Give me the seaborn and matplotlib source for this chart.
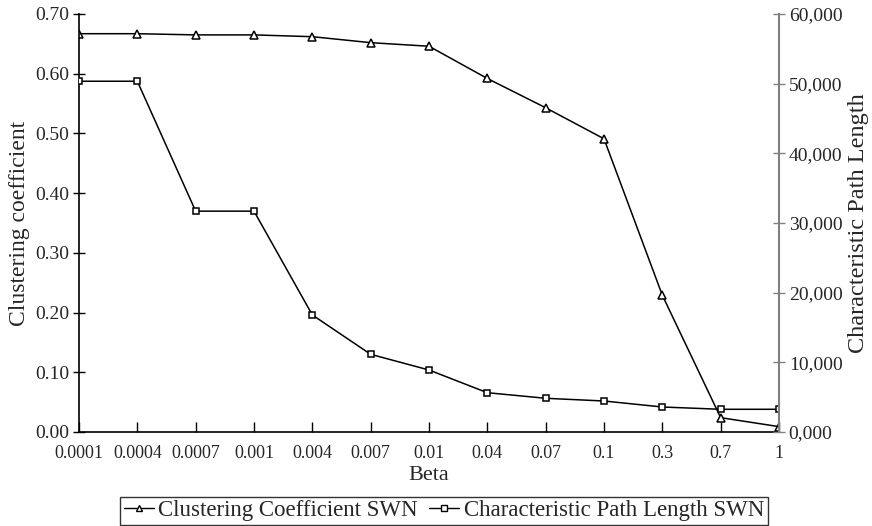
import matplotlib
matplotlib.use("Agg")
import matplotlib.pyplot as plt
from matplotlib.ticker import FuncFormatter, MultipleLocator
from matplotlib.lines import Line2D
import seaborn as sns
import pandas as pd

beta_labels = ["0.0001", "0.0004", "0.0007", "0.001", "0.004", "0.007", "0.01",
               "0.04", "0.07", "0.1", "0.3", "0.7", "1"]
clustering = [0.667, 0.667, 0.665, 0.665, 0.662, 0.652, 0.646,
              0.592, 0.543, 0.491, 0.229, 0.024, 0.009]
path_length = [50350, 50350, 31700, 31700, 16800, 11150, 8900,
               5640, 4840, 4450, 3590, 3260, 3260]

sns.set_theme(style="white")
plt.rcParams["font.family"] = ["Liberation Serif", "DejaVu Serif"]

df = pd.DataFrame({"pos": list(range(len(beta_labels))),
                   "beta": beta_labels,
                   "cc": clustering,
                   "cpl": path_length})

fig, ax = plt.subplots(figsize=(8.72, 5.26), dpi=100)
fig.subplots_adjust(left=79/872, right=779/872, top=1-14/526, bottom=1-432/526)
ax2 = ax.twinx()

sns.lineplot(data=df, x="pos", y="cc", ax=ax, color="black", linewidth=1.1,
             marker="^", markersize=5.5, markerfacecolor="white",
             markeredgecolor="black", markeredgewidth=1.1, sort=False)
sns.lineplot(data=df, x="pos", y="cpl", ax=ax2, color="black", linewidth=1.1,
             marker="s", markersize=5, markerfacecolor="white",
             markeredgecolor="black", markeredgewidth=1.1, sort=False)

ax.set_xlim(0, len(beta_labels) - 1)
ax.set_ylim(0, 0.70)
ax2.set_ylim(0, 60000)
ax.set_xticks(range(len(beta_labels)))
ax.set_xticklabels(beta_labels)
ax.yaxis.set_major_locator(MultipleLocator(0.1))
ax.yaxis.set_major_formatter(FuncFormatter(lambda v, p: f"{v:.2f}"))
ax2.yaxis.set_major_locator(MultipleLocator(10000))
ax2.yaxis.set_major_formatter(FuncFormatter(lambda v, p: f"{v/1000:.0f},000"))

ax.tick_params(axis="y", direction="inout", length=8, width=1, labelsize=14,
               color="black", pad=3, left=True)
ax.tick_params(axis="x", direction="in", length=7, width=1, labelsize=13,
               color="black", pad=9, bottom=True)
ax2.tick_params(axis="y", direction="inout", length=8, width=1, labelsize=14,
                color="#808080", pad=3, right=True)

for a in (ax, ax2):
    a.spines["top"].set_visible(False)
ax.spines["left"].set_color("black")
ax.spines["bottom"].set_color("black")
ax.spines["right"].set_visible(False)
ax2.spines["left"].set_visible(False)
ax2.spines["bottom"].set_visible(False)
ax2.spines["right"].set_color("#808080")
ax2.spines["right"].set_linewidth(1.5)
ax.spines["left"].set_linewidth(1.2)
ax.spines["bottom"].set_linewidth(1.2)

ax.set_xlabel("Beta", fontsize=16, labelpad=3)
ax.set_ylabel("Clustering coefficient", fontsize=17, labelpad=4)
ax2.set_ylabel("Characteristic Path Length", fontsize=17.5, labelpad=4)
ax.grid(False)
ax2.grid(False)

handles = [
    Line2D([0], [0], color="black", lw=1.0, marker="^", markersize=4,
           markerfacecolor="white", markeredgecolor="black"),
    Line2D([0], [0], color="black", lw=1.0, marker="s", markersize=4,
           markerfacecolor="white", markeredgecolor="black"),
]
leg = fig.legend(handles, ["Clustering Coefficient SWN", "Characteristic Path Length SWN"],
                 loc="lower center", bbox_to_anchor=(444/872, 0.0), ncol=2,
                 fontsize=16.5, frameon=True, fancybox=False, handlelength=1.3,
                 handletextpad=0.2, columnspacing=0.5, borderpad=0.15,
                 borderaxespad=0.05)
leg.get_frame().set_edgecolor("black")
leg.get_frame().set_linewidth(1.0)

fig.savefig("out.png", dpi=100)
